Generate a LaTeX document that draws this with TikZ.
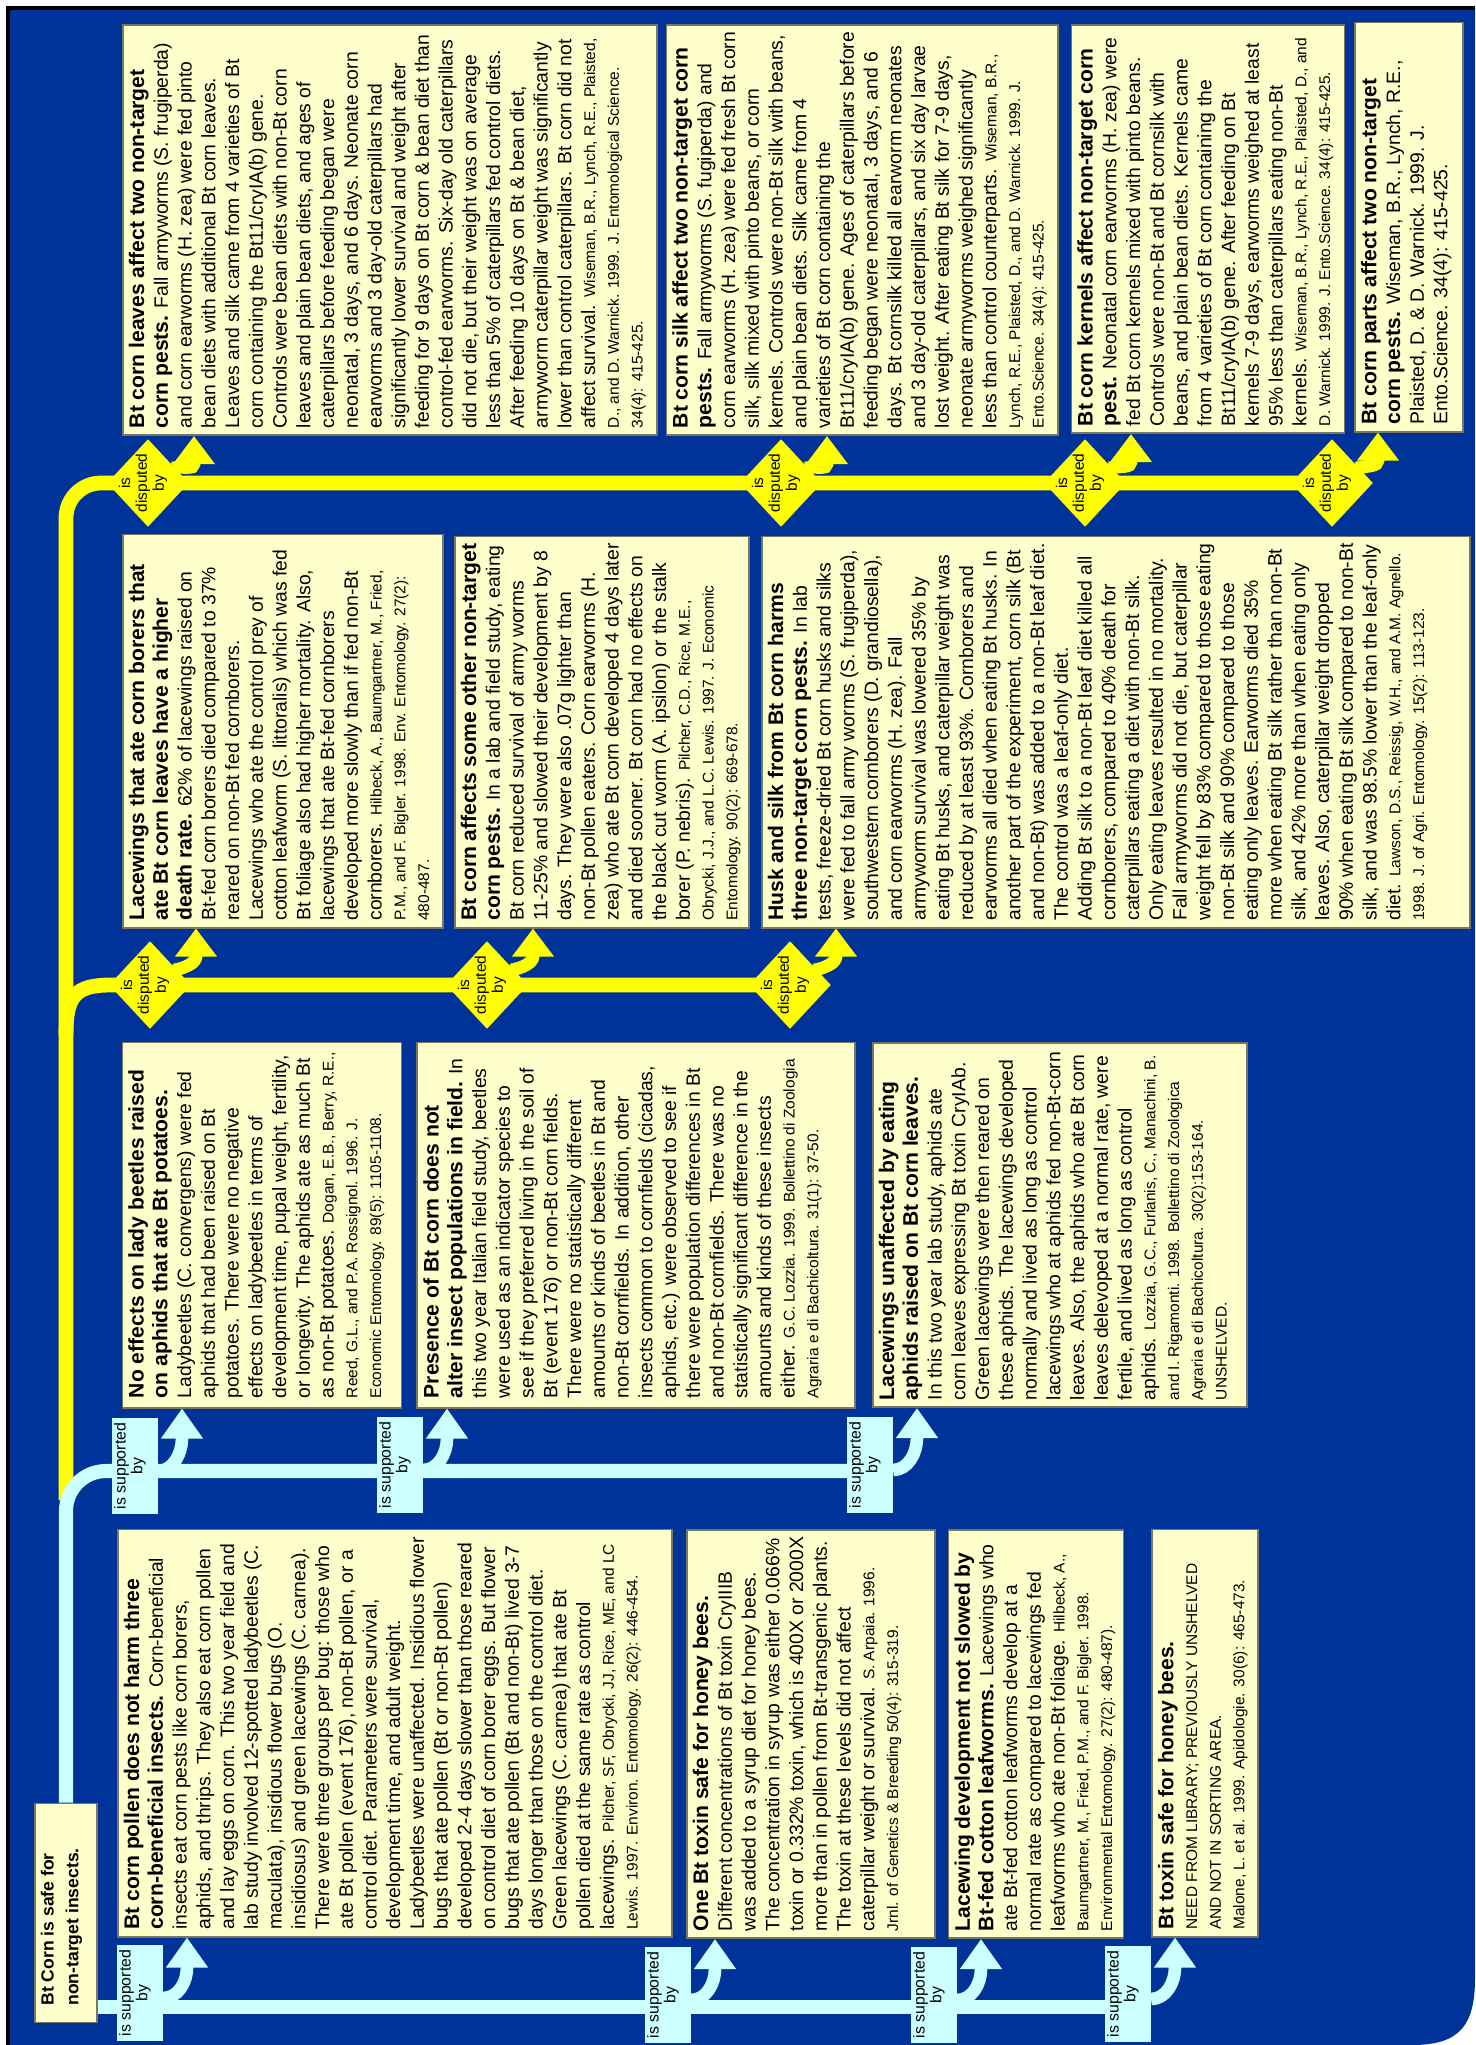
\documentclass[tikz,border=0pt]{standalone}
\usepackage{fontspec}
\setmainfont{Liberation Sans}
\usetikzlibrary{arrows.meta,calc,shapes.geometric}
\pgfdeclarelayer{bg}
\pgfdeclarelayer{lines}
\pgfsetlayers{bg,lines,main}

\definecolor{mapblue}{RGB}{0,51,153}
\definecolor{supblue}{RGB}{204,255,255}
\definecolor{disyellow}{RGB}{255,255,0}
\definecolor{notefill}{RGB}{255,255,204}
\definecolor{noteline}{RGB}{120,120,96}

\newcommand{\ttl}[1]{{\fontsize{6}{6.75}\selectfont\bfseries #1}}
\newcommand{\srcref}[1]{{\fontsize{4.4}{6.75}\selectfont #1}}
\newcommand{\notetext}[3]{\parbox[c][#2][t]{#1}{\raggedright\hyphenpenalty=10000 #3}}
\newcommand{\ctext}[1]{\makebox[0pt]{\smash{\begin{tabular}{@{}c@{}}#1\end{tabular}}}}

\begin{document}
\begin{tikzpicture}[x=0.01cm, y=-0.01cm,
    note/.style={rotate=90, draw=noteline, line width=0.5pt, fill=notefill, inner xsep=0.07cm, inner ysep=0.06cm, font=\fontsize{5.5}{6.75}\selectfont},
    supported/.style={rotate=90, fill=supblue, minimum width=0.95cm, minimum height=0.46cm, inner sep=0pt, font=\fontsize{4.5}{4.8}\selectfont},
    disputed/.style={rotate=90, diamond, fill=disyellow, minimum width=0.88cm, minimum height=0.82cm, inner sep=0pt, font=\fontsize{4.4}{4.8}\selectfont},
    supline/.style={draw=supblue, line width=4pt},
    disline/.style={draw=disyellow, line width=4.2pt},
    suparrow/.style={draw=supblue, line width=3.6pt, -{Triangle[width=0.4cm,length=0.3cm]}},
    disarrow/.style={draw=disyellow, line width=3.6pt, -{Triangle[width=0.4cm,length=0.28cm]}}]

    \useasboundingbox (0,0) rectangle (1475,2045);
    \begin{pgfonlayer}{bg}
    \fill[white] (0,0) rectangle (1475,2045);
    \fill[mapblue] (8,8) -- (1475,8) -- (1475,1978) .. controls (1475,2025) and (1460,2045) .. (1412,2045) -- (8,2045) -- cycle;
    \draw[black, line width=0.9pt] (8,2045) -- (8,8) -- (1475,8);
    \end{pgfonlayer}

    \node[note, inner xsep=0.17cm] (root) at (66,1913) {\notetext{1.85cm}{0.50cm}{\fontsize{5}{7}\selectfont\bfseries Bt Corn is safe for non-target insects.}};

    \node[note] (A) at (395,1733) {\notetext{3.93cm}{5.42cm}{\ttl{Bt corn pollen does not harm three corn-beneficial insects.} Corn-beneficial insects eat corn pests like corn borers, aphids, and thrips. They also eat corn pollen and lay eggs on corn. This two year field and lab study involved 12-spotted ladybeetles (C. maculata), insidious flower bugs (O. insidiosus) and green lacewings (C. carnea).\\ There were three groups per bug: those who ate Bt pollen (event 176), non-Bt pollen, or a control diet. Parameters were survival,\\ development time, and adult weight.\\ Ladybeetles were unaffected. Insidious flower bugs that ate pollen (Bt or non-Bt pollen) developed 2-4 days slower than those reared on control diet of corn borer eggs. But flower bugs that ate pollen (Bt and non-Bt) lived 3-7 days longer than those on the control diet. Green lacewings (C. carnea) that ate Bt pollen died at the same rate as control lacewings. \srcref{Pilcher, SF, Obrycki, JJ, Rice, ME, and LC Lewis. 1997. Environ. Entomology. 26(2): 446-454.}}};
    \node[note] (B) at (811,1734) {\notetext{3.94cm}{2.36cm}{\ttl{One Bt toxin safe for honey bees.}\\ Different concentrations of Bt toxin CryIIIB was added to a syrup diet for honey bees. The concentration in syrup was either 0.066\% toxin or 0.332\% toxin, which is 400X or 2000X more than in pollen from Bt-transgenic plants. The toxin at these levels did not affect caterpillar weight or survival. \srcref{S. Arpaia. 1996. Jrnl. of Genetics \& Breeding 50(4): 315-319.}}};
    \node[note] (C) at (1036,1734) {\notetext{3.94cm}{1.63cm}{\ttl{Lacewing development not slowed by Bt-fed cotton leafworms.} Lacewings who ate Bt-fed cotton leafworms develop at a normal rate as compared to lacewings fed leafworms who ate non-Bt foliage. \srcref{Hilbeck, A., Baumgartner, M., Fried, P.M., and F. Bigler. 1998. Environmental Entomology. 27(2): 480-487).}}};
    \node[note] (D) at (1205,1733) {\notetext{3.93cm}{0.94cm}{\ttl{Bt toxin safe for honey bees.}\\ \srcref{NEED FROM LIBRARY; PREVIOUSLY UNSHELVED AND NOT IN SORTING AREA.\\ Malone, L. et al. 1999. Apidologie. 30(6): 465-473.}}};

    \node[note, inner xsep=0.095cm] (E) at (262,1225) {\notetext{3.46cm}{2.67cm}{\ttl{No effects on lady beetles raised on aphids that ate Bt potatoes.} Ladybeetles (C. convergens) were fed aphids that had been raised on Bt potatoes. There were no negative effects on ladybeetles in terms of development time, pupal weight, fertility, or longevity. The aphids ate as much Bt as non-Bt potatoes. \srcref{Dogan, E.B., Berry, R.E., Reed, G.L., and P.A. Rossignol. 1996. J. Economic Entomology. 89(5): 1105-1108.}}};
    \node[note, inner xsep=0.095cm] (F) at (636,1225) {\notetext{3.46cm}{4.25cm}{\ttl{Presence of Bt corn does not\\ alter insect populations in field.} In this two year Italian field study, beetles were used as an indicator species to see if they preferred living in the soil of Bt (event 176) or non-Bt corn fields.\\ There were no statistically different amounts or kinds of beetles in Bt and non-Bt cornfields. In addition, other insects common to cornfields (cicadas, aphids, etc.) were observed to see if there were population differences in Bt and non-Bt cornfields. There was no statistically significant difference in the amounts and kinds of these insects either. \srcref{G.C. Lozzia. 1999. Bollettino di Zoologia Agraria e di Bachicoltura. 31(1): 37-50.}}};
    \node[note] (G) at (1060,1225) {\notetext{3.50cm}{3.62cm}{\ttl{Lacewings unaffected by eating aphids raised on Bt corn leaves.}\\ In this two year lab study, aphids ate corn leaves expressing Bt toxin CryIAb. Green lacewings were then reared on these aphids. The lacewings developed normally and lived as long as control lacewings who at aphids fed non-Bt-corn leaves. Also, the aphids who ate Bt corn leaves delevoped at a normal rate, were fertile, and lived as long as control aphids. \srcref{Lozzia, G.C., Furlanis, C., Manachini, B. and I. Rigamonti. 1998. Bollettino di Zoologica Agraria e di Bachicoltura. 30(2):153-164. UNSHELVED.}}};

    \node[note] (H) at (283,731) {\notetext{3.79cm}{3.08cm}{\ttl{Lacewings that ate corn borers that ate Bt corn leaves have a higher death rate.} 62\% of lacewings raised on Bt-fed corn borers died compared to 37\% reared on non-Bt fed cornborers.\\ Lacewings who ate the control prey of cotton leafworm (S. littoralis) which was fed Bt foliage also had higher mortality. Also, lacewings that ate Bt-fed cornborers developed more slowly than if fed non-Bt cornborers. \srcref{Hilbeck, A., Baumgartner, M., Fried, P.M., and F. Bigler. 1998. Env. Entomology. 27(2): 480-487.}}};
    \node[note] (I) at (602,732) {\notetext{3.77cm}{2.82cm}{\ttl{Bt corn affects some other non-target corn pests.} In a lab and field study, eating Bt corn reduced survival of army worms 11-25\% and slowed their development by 8 days. They were also .07g lighter than non-Bt pollen eaters. Corn earworms (H. zea) who ate Bt corn developed 4 days later and died sooner. Bt corn had no effects on the black cut worm (A. ipsilon) or the stalk borer (P. nebris). \srcref{Pilcher, C.D., Rice, M.E., Obrycki, J.J., and L.C. Lewis. 1997. J. Economic Entomology. 90(2): 669-678.}}};
    \node[note] (J) at (1116,732) {\notetext{3.77cm}{6.96cm}{\ttl{Husk and silk from Bt corn harms three non-target corn pests.} In lab tests, freeze-dried Bt corn husks and silks were fed to fall army worms (S. frugiperda), southwestern cornborers (D. grandiosella), and corn earworms (H. zea). Fall armyworm survival was lowered 35\% by eating Bt husks, and caterpillar weight was reduced by at least 93\%. Cornborers and earworms all died when eating Bt husks. In another part of the experiment, corn silk (Bt and non-Bt) was added to a non-Bt leaf diet. The control was a leaf-only diet.\\ Adding Bt silk to a non-Bt leaf diet killed all cornborers, compared to 40\% death for caterpillars eating a diet with non-Bt silk. Only eating leaves resulted in no mortality. Fall armyworms did not die, but caterpillar weight fell by 83\% compared to those eating non-Bt silk and 90\% compared to those eating only leaves. Earworms died 35\% more when eating Bt silk rather than non-Bt silk, and 42\% more than when eating only leaves. Also, caterpillar weight dropped 90\% when eating Bt silk compared to non-Bt silk, and was 98.5\% lower than the leaf-only diet. \srcref{Lawson, D.S., Reissig, W.H., and A.M. Agnello. 1998. J. of Agri. Entomology. 15(2): 113-123.}}};

    \node[note] (K) at (390,230) {\notetext{3.96cm}{5.22cm}{\ttl{Bt corn leaves affect two non-target corn pests.} Fall armyworms (S. frugiperda) and corn earworms (H. zea) were fed pinto bean diets with additional Bt corn leaves.\\ Leaves and silk came from 4 varieties of Bt corn containing the Bt11/cryIA(b) gene.\\ Controls were bean diets with non-Bt corn leaves and plain bean diets, and ages of caterpillars before feeding began were neonatal, 3 days, and 6 days. Neonate corn earworms and 3 day-old caterpillars had significantly lower survival and weight after feeding for 9 days on Bt corn \& bean diet than control-fed earworms. Six-day old caterpillars did not die, but their weight was on average less than 5\% of caterpillars fed control diets. After feeding 10 days on Bt \& bean diet, armyworm caterpillar weight was significantly lower than control caterpillars. Bt corn did not affect survival. \srcref{Wiseman, B.R., Lynch, R.E., Plaisted, D., and D. Warnick. 1999. J. Entomological Science. 34(4): 415-425.}}};
    \node[note] (L) at (862,230) {\notetext{3.96cm}{3.79cm}{\ttl{Bt corn silk affect two non-target corn pests.} Fall armyworms (S. fugiperda) and corn earworms (H. zea) were fed fresh Bt corn silk, silk mixed with pinto beans, or corn kernels. Controls were non-Bt silk with beans, and plain bean diets. Silk came from 4 varieties of Bt corn containing the Bt11/cryIA(b) gene. Ages of caterpillars before feeding began were neonatal, 3 days, and 6 days. Bt cornsilk killed all earworm neonates and 3 day-old caterpillars, and six day larvae lost weight. After eating Bt silk for 7-9 days, neonate armyworms weighed significantly less than control counterparts. \srcref{Wiseman, B.R., Lynch, R.E., Plaisted, D., and D. Warnick. 1999. J. Ento.Science. 34(4): 415-425.}}};
    \node[note] (M) at (1208,229) {\notetext{3.94cm}{2.61cm}{\ttl{Bt corn kernels affect non-target corn pest.} Neonatal corn earworms (H. zea) were fed Bt corn kernels mixed with pinto beans. Controls were non-Bt and Bt cornsilk with beans, and plain bean diets. Kernels came from 4 varieties of Bt corn containing the Bt11/cryIA(b) gene. After feeding on Bt kernels 7-9 days, earworms weighed at least 95\% less than caterpillars eating non-Bt kernels. \srcref{Wiseman, B.R., Lynch, R.E., Plaisted, D., and D. Warnick. 1999. J. Ento.Science. 34(4): 415-425.}}};
    \node[note] (N) at (1409,227) {\notetext{3.95cm}{0.96cm}{\ttl{Bt corn parts affect two non-target corn pests.} Wiseman, B.R., Lynch, R.E., Plaisted, D. \& D. Warnick. 1999. J. Ento.Science. 34(4): 415-425.}};

    \coordinate (fork) at (66,1500);
    \coordinate (busK) at (66,483);
    \coordinate (busH) at (66,985);
    \coordinate (busE) at (66,1471);
    \coordinate (busA) at (97,2007);

    \node[disputed] (dK) at (148,483) {\ctext{is\\disputed\\by}};
    \node[disputed] (dL) at (781,483) {\ctext{is\\disputed\\by}};
    \node[disputed] (dM) at (1085,483) {\ctext{is\\disputed\\by}};
    \node[disputed] (dN) at (1332,483) {\ctext{is\\disputed\\by}};
    \node[disputed] (dH) at (150,985) {\ctext{is\\disputed\\by}};
    \node[disputed] (dI) at (487,985) {\ctext{is\\disputed\\by}};
    \node[disputed] (dJ) at (790,985) {\ctext{is\\disputed\\by}};

    \node[supported] (sA) at (140,1993) {\ctext{is supported\\by}};
    \node[supported] (sB) at (668,1995) {\ctext{is supported\\by}};
    \node[supported] (sC) at (934,1995) {\ctext{is supported\\by}};
    \node[supported] (sD) at (1128,1994) {\ctext{is supported\\by}};
    \node[supported] (sE) at (135,1466) {\ctext{is supported\\by}};
    \node[supported] (sF) at (400,1465) {\ctext{is supported\\by}};
    \node[supported] (sG) at (870,1465) {\ctext{is supported\\by}};

    \begin{pgfonlayer}{lines}
    \draw[disline, rounded corners=0.35cm] (fork) -- (busK) -- (busK -| dN);
    \draw[disline] ($(busH)+(0,50)$) .. controls ($(busH)+(0,12)$) and ($(busH)+(8,0)$) .. ($(busH)+(45,0)$) -- (busH -| dJ);
    \draw[supline, rounded corners=0.4cm] (root.east) -- (busE) -- (busE -| sG);
    \draw[supline] (busA) -- (busA -| sD);
    \end{pgfonlayer}

    \foreach \l/\b in {dK/K,dL/L,dM/M,dN/N,dH/H,dI/I,dJ/J}
        \draw[disarrow] ($(\l.center)+(24,-15)$) .. controls ($(\l.center)+(36,-17)$) and ($(\b.west -| \l.center)+(46,34)$) .. ($(\b.west -| \l.center)+(46,28)$) -- ($(\b.west -| \l.center)+(46,0)$);
    \foreach \l/\b in {sA/A,sB/B,sC/C,sD/D,sE/E,sF/F,sG/G}
        \draw[suparrow] ($(\l.center)+(23,5)$) .. controls ($(\l.center)+(38,5)$) and ($(\b.west -| \l.center)+(47,45)$) .. ($(\b.west -| \l.center)+(47,30)$) -- ($(\b.west -| \l.center)+(47,0)$);
\end{tikzpicture}
\end{document}
